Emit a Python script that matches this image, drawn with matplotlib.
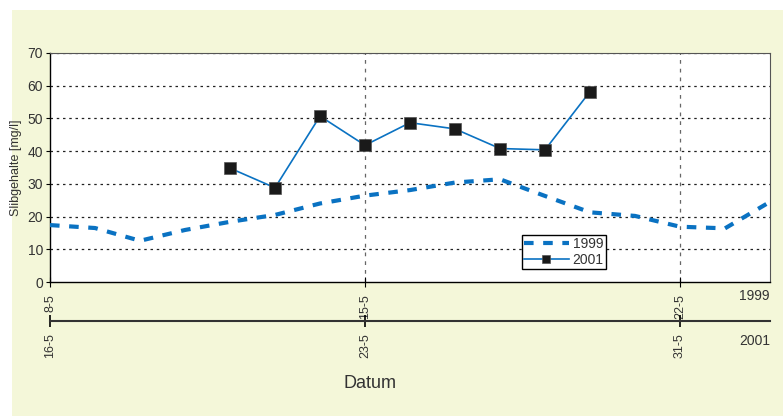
import matplotlib
matplotlib.use('Agg')
import matplotlib.pyplot as plt
from matplotlib.patches import Rectangle

plt.rcParams['font.family'] = ['Liberation Sans', 'DejaVu Sans']

# day index from 8-5 (1999) / 16-5 (2001)
days_1999 = list(range(17))
vals_1999 = [17.4, 16.5, 12.6, 15.9, 18.4, 20.5, 24.0, 26.4, 28.1, 30.4,
             31.4, 26.3, 21.3, 20.2, 16.9, 16.4, 24.5]

days_2001 = [4, 5, 6, 7, 8, 9, 10, 11, 12]
vals_2001 = [34.8, 28.8, 50.7, 41.8, 48.7, 46.8, 40.8, 40.4, 58.2]

ticks_x = [0, 7, 14]
labels_1999 = ['8-5', '15-5', '22-5']
labels_2001 = ['16-5', '23-5', '31-5']
yticks = [0, 10, 20, 30, 40, 50, 60, 70]

blue = '#0a72c2'
panel = '#f4f7d9'
text_col = '#333333'

fig = plt.figure(figsize=(7.83, 4.16), dpi=100)
fig.patch.set_facecolor('white')
fig.patches.append(Rectangle((12 / 783, 0), 1, 1 - 10 / 416, transform=fig.transFigure,
                             facecolor=panel, edgecolor='none', zorder=-10))

ax = fig.add_axes([50 / 783, 134 / 416, 720 / 783, 229 / 416])
ax.set_facecolor('white')
ax.set_xlim(0, 16)
ax.set_ylim(0, 70)

# grid
for y in yticks[1:]:
    ax.axhline(y, color='#222222', lw=0.9, ls=(0, (2, 3)), zorder=1)
for x in ticks_x[1:]:
    ax.axvline(x, color='#666666', lw=0.9, ls=(0, (3, 4)), zorder=1)

ax.plot(days_1999, vals_1999, color=blue, lw=3, ls=(0, (2.3, 2.3)), label='1999', zorder=3)
ax.plot(days_2001, vals_2001, color=blue, lw=1.2, marker='s', markersize=8,
        markerfacecolor='#1a1a1a', markeredgecolor='#555555', markeredgewidth=0.5,
        label='2001', zorder=4)

ax.set_yticks(yticks)
ax.set_xticks(ticks_x)
ax.set_xticklabels(labels_1999, rotation=90, fontsize=9, color=text_col)
ax.tick_params(axis='y', labelsize=10, length=3, pad=2, labelcolor=text_col)
ax.tick_params(axis='x', direction='inout', length=7, pad=5)
for s in ['top', 'right']:
    ax.spines[s].set_color('#555555')
    ax.spines[s].set_linewidth(0.8)
ax.spines['left'].set_linewidth(1.0)
ax.spines['bottom'].set_linewidth(1.0)
ax.spines['top'].set_linestyle((0, (2, 1)))
ax.set_ylabel('Slibgehalte [mg/l]', fontsize=9, labelpad=4, color=text_col)

leg = ax.legend(loc='upper left', bbox_to_anchor=(472 / 720, 47 / 229), fontsize=10,
                frameon=True, fancybox=False, framealpha=1, edgecolor='black',
                borderpad=0.15, handlelength=3.2, handletextpad=0.3, labelspacing=0.15,
                markerscale=0.7, borderaxespad=0)
leg.get_frame().set_linewidth(1.0)
for t in leg.get_texts():
    t.set_color(text_col)

# second date axis for 2001
ax2 = fig.add_axes([50 / 783, 95 / 416, 720 / 783, 0.001])
ax2.set_xlim(0, 16)
ax2.patch.set_alpha(0)
for s in ['top', 'right', 'left']:
    ax2.spines[s].set_visible(False)
ax2.spines['bottom'].set_linewidth(1.5)
ax2.spines['bottom'].set_color('#333333')
ax2.set_yticks([])
ax2.set_xticks(ticks_x)
ax2.set_xticklabels(labels_2001, rotation=90, fontsize=9, color=text_col)
ax2.tick_params(axis='x', direction='inout', length=9, width=1.2, pad=4)

fig.text(770 / 783, 1 - 296 / 416, '1999', fontsize=10, ha='right', va='center', color=text_col)
fig.text(770 / 783, 1 - 341 / 416, '2001', fontsize=10, ha='right', va='center', color=text_col)
fig.text(370 / 783, 1 - 383 / 416, 'Datum', fontsize=13, ha='center', va='center', color=text_col)

fig.savefig('out.png', dpi=100)
